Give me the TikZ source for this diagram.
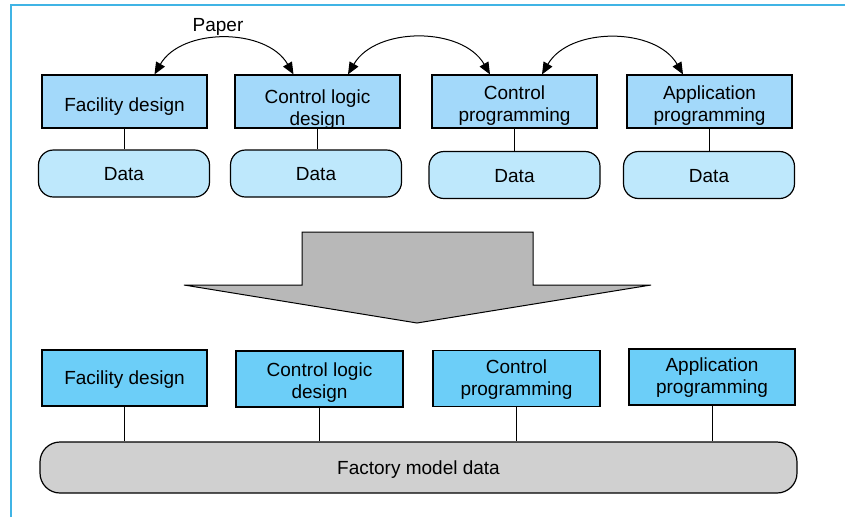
\documentclass[tikz,border=0pt]{standalone}
\usepackage{fontspec}
\setmainfont{Liberation Sans}
\usetikzlibrary{arrows.meta}

\definecolor{toolblue}{HTML}{A3D9FA}
\definecolor{datablue}{HTML}{BEE8FC}
\definecolor{modelblue}{HTML}{6CCEF8}
\definecolor{framecyan}{HTML}{40B4E5}
\definecolor{bargray}{HTML}{D0D0D0}
\definecolor{arrowgray}{HTML}{B8B8B8}

% centred lines, set a little lower than the box middle
\newcommand\boxtext[2]{\raisebox{-#1}[\height][\depth]{\begin{tabular}{@{}c@{}}#2\end{tabular}}}

\begin{document}
\begin{tikzpicture}[x=1pt,y=1pt,
  every node/.style={font=\fontsize{19}{22}\selectfont},
  tool/.style={draw, fill=toolblue, line width=1.2pt, minimum width=165pt,
    minimum height=53pt, inner sep=0pt},
  model/.style={tool, fill=modelblue, minimum height=56pt},
  data/.style={draw, fill=datablue, rounded corners=15pt, line width=1.2pt,
    minimum width=171pt, minimum height=47pt, inner sep=0pt},
  link/.style={line width=0.9pt},
  swap/.style={line width=1pt, {Triangle[length=12pt,width=10pt]}-{Triangle[length=12pt,width=10pt]}}]
\useasboundingbox (0,0) rectangle (845,-517);

% frame
\draw[framecyan, line width=2pt] (11,-517) -- (11,-5) -- (845,-5);

% separate tools, each with its own data
\node[tool] (fac1) at (124.5,-101.5) {\boxtext{6pt}{Facility design}};
\node[tool] (logic1) at (317.5,-101.5) {\boxtext{9pt}{Control logic\\design}};
\node[tool] (prog1) at (514.5,-101.5) {\boxtext{5pt}{Control\\programming}};
\node[tool] (app1) at (709.5,-101.5) {\boxtext{5pt}{Application\\programming}};

\node[data] (dat1) at (124,-173.5) {\boxtext{3pt}{Data}};
\node[data] (dat2) at (316,-173.5) {\boxtext{3pt}{Data}};
\node[data] (dat3) at (514.5,-175) {\boxtext{3pt}{Data}};
\node[data] (dat4) at (709,-175) {\boxtext{3pt}{Data}};

\draw[link] (fac1.south) -- (fac1.south |- dat1.north);
\draw[link] (logic1.south) -- (logic1.south |- dat2.north);
\draw[link] (prog1.south) -- (prog1.south |- dat3.north);
\draw[link] (app1.south) -- (app1.south |- dat4.north);

% hand-over between tools
\node (paper) at (218,-27) {Paper};
\draw[swap] ([xshift=30pt]fac1.north) to[out=60,in=120] ([xshift=-24pt]logic1.north);
\draw[swap] ([xshift=30.5pt]logic1.north) to[out=60,in=120] ([xshift=-24.5pt]prog1.north);
\draw[swap] ([xshift=27.5pt]prog1.north) to[out=60,in=120] ([xshift=-26.5pt]app1.north);

% big arrow
\draw[fill=arrowgray, line width=1pt] (302,-232) -- (533,-232) -- (533,-285)
  -- (651,-285) -- (417,-323) -- (184,-285) -- (302,-285) -- cycle;

% shared factory model
\node[model] (fac2) at (124.5,-378) {\boxtext{2.5pt}{Facility design}};
\node[model, minimum width=167pt] (logic2) at (319.5,-379) {\boxtext{4pt}{Control logic\\design}};
\node[model, minimum width=167pt] (prog2) at (516.5,-378.5) {\boxtext{1.5pt}{Control\\programming}};
\node[model, minimum width=166pt] (app2) at (712,-377) {\boxtext{1.5pt}{Application\\programming}};

\node[data, fill=bargray, rounded corners=20pt, minimum width=757pt,
  minimum height=51pt] (fmd) at (418.5,-467.5) {\boxtext{2.5pt}{Factory model data}};

\draw[link] (fac2.south) -- (fac2.south |- fmd.north);
\draw[link] (logic2.south) -- (logic2.south |- fmd.north);
\draw[link] (prog2.south) -- (prog2.south |- fmd.north);
\draw[link] (app2.south) -- (app2.south |- fmd.north);
\end{tikzpicture}
\end{document}
